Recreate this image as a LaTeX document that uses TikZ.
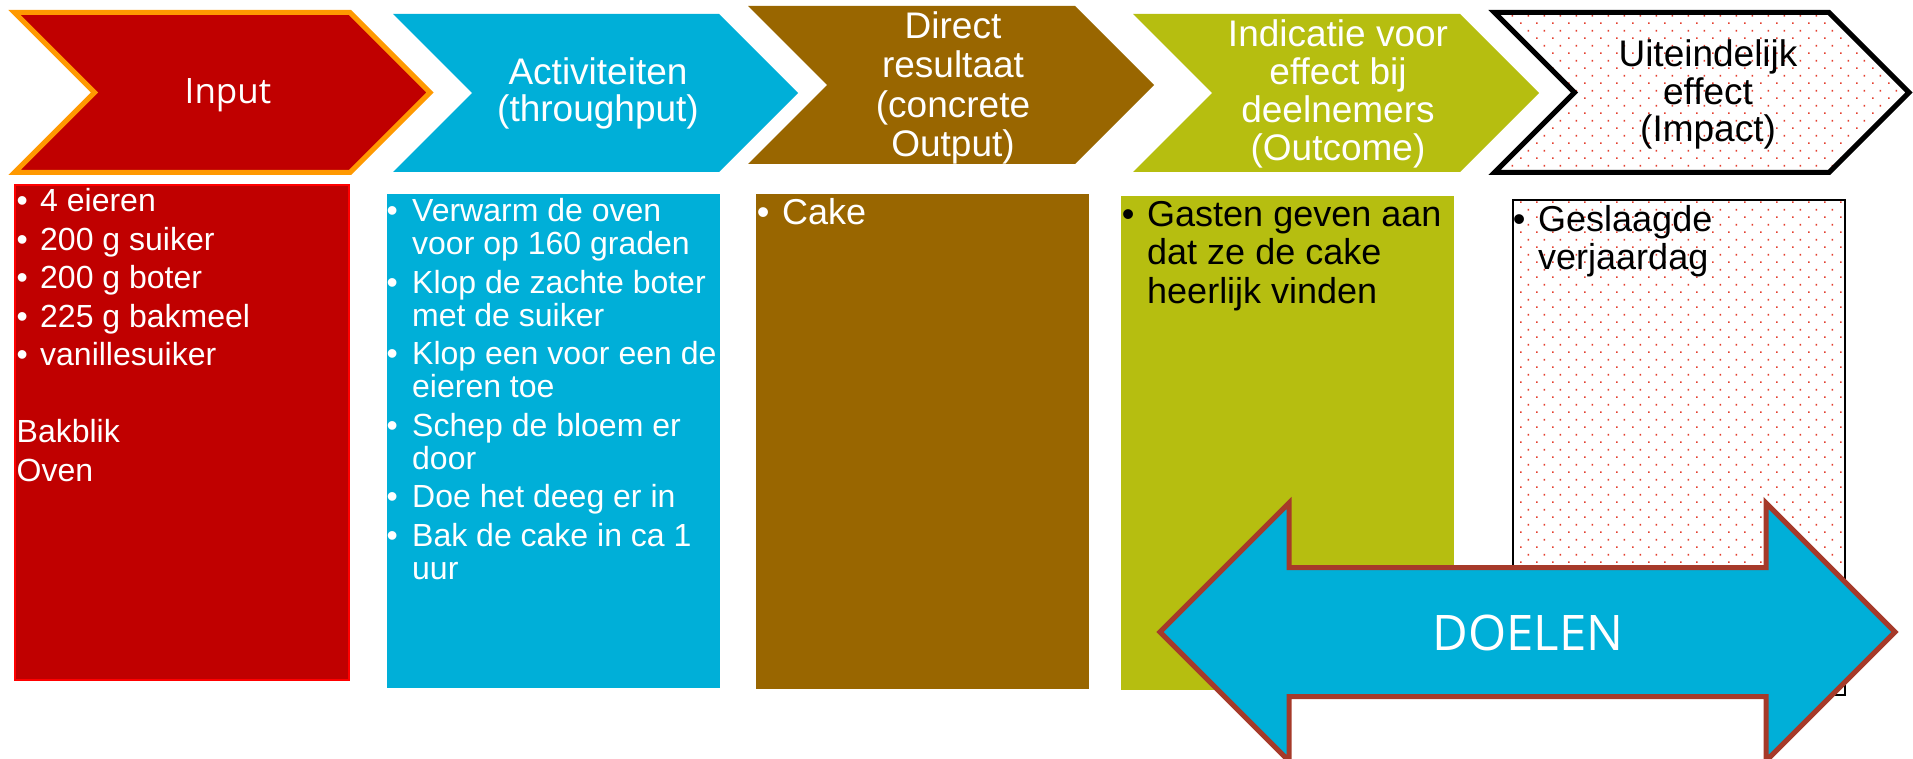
\documentclass[tikz,border=0pt]{standalone}
\usepackage{fontspec}
\setmainfont{Liberation Sans}
\newfontfamily\segoe{Open Sans}
\usetikzlibrary{patterns.meta}
\definecolor{cred}{RGB}{192,0,0}
\definecolor{corange}{RGB}{255,153,0}
\definecolor{cblue}{RGB}{0,175,216}
\definecolor{cbrown}{RGB}{153,102,0}
\definecolor{cgreen}{RGB}{182,190,16}
\definecolor{cdot}{RGB}{228,62,46}
\definecolor{carrow}{RGB}{166,58,42}
\definecolor{cbright}{RGB}{255,0,0}
\tikzdeclarepattern{
  name=reddots,
  type=uncolored,
  bounding box={(0pt,0pt) and (16pt,15.4pt)},
  tile size={(16pt,15.4pt)},
  code={
    \fill (0pt,0pt) rectangle (1.7pt,1.7pt);
    \fill (8pt,7.7pt) rectangle (9.7pt,9.4pt);
  }
}
\newcommand\lmitem[2]{\hangindent=#1\hangafter=1\noindent\makebox[#1][l]{•}#2\par}
\newcommand\lmline[1]{\noindent#1\par}
\tikzset{
  title/.style={anchor=base, inner sep=0pt, font=\fontsize{37}{38}\selectfont},
  listtext/.style={anchor=base west, inner sep=0pt},
  dotted fill/.style={preaction={fill=white}, pattern=reddots, pattern color=cdot}
}
\begin{document}
\begin{tikzpicture}[x=1pt,y=-1pt,line join=miter]
\useasboundingbox (0,0) rectangle (1913,759);

% ---- chevrons ----
\path[fill=cred, draw=corange, line width=5pt]
  (14.5,12.5) -- (350,12.5) -- (430,92.5) -- (350,172.5) -- (14.5,172.5) -- (94.5,92.5) -- cycle;
\fill[cblue] (393,14) -- (719,14) -- (798,93) -- (719,172) -- (393,172) -- (472,93) -- cycle;
\fill[cbrown] (748,6) -- (1075,6) -- (1154,85) -- (1075,164) -- (748,164) -- (827,85) -- cycle;
\fill[cgreen] (1133,14) -- (1460,14) -- (1539,93) -- (1460,172) -- (1133,172) -- (1212,93) -- cycle;
\path[dotted fill, draw=black, line width=5pt]
  (1494.5,12.5) -- (1829,12.5) -- (1909,92.5) -- (1829,172.5) -- (1494.5,172.5) -- (1574.5,92.5) -- cycle;

% ---- chevron titles ----
\node[anchor=base, inner sep=0pt, text=white, font=\segoe\fontsize{35}{36}\selectfont] (tinput) at (228,104) {Input};
\node[title, text=white] (tact) at (598,85) {\parbox[t]{320pt}{\centering\fontsize{37}{36.7}\selectfont Activiteiten\\(throughput)}};
\node[title, text=white] (tdir) at (953,38.3) {\parbox[t]{320pt}{\centering\fontsize{37}{39.4}\selectfont Direct\\resultaat\\(concrete\\Output)}};
\node[title, text=white] (tind) at (1338,46.7) {\parbox[t]{320pt}{\centering\fontsize{37}{37.8}\selectfont Indicatie voor\\effect bij\\deelnemers\\(Outcome)}};
\node[title, text=black] (tuit) at (1708,66.7) {\parbox[t]{320pt}{\centering\fontsize{37}{37.5}\selectfont Uiteindelijk\\effect\\(Impact)}};

% ---- boxes ----
\path[fill=cred, draw=cbright, line width=1.5pt] (15,185) rectangle (349,680);
\fill[cblue] (387,194) rectangle (720,688);
\fill[cbrown] (756,194) rectangle (1089,689);
\fill[cgreen] (1121,196) rectangle (1454,690);
\path[dotted fill, draw=black, line width=2pt] (1513,200) rectangle (1845,695);

% ---- box texts ----
\node[listtext, text=white] (linput) at (16.5,211.7) {\parbox[t]{330pt}{\fontsize{32}{33}\selectfont\parskip=5.5pt
  \lmitem{23.5pt}{4 eieren}
  \lmitem{23.5pt}{200 g suiker}
  \lmitem{23.5pt}{200 g boter}
  \lmitem{23.5pt}{225 g bakmeel}
  \lmitem{23.5pt}{vanillesuiker}
  \lmline{\mbox{}}
  \lmline{Bakblik}
  \lmline{Oven}}};
\node[listtext, text=white] (lact) at (386.5,221.7) {\parbox[t]{360pt}{\fontsize{32}{33}\selectfont\parskip=5.5pt
  \lmitem{25.5pt}{Verwarm de oven\newline voor op 160 graden}
  \lmitem{25.5pt}{Klop de zachte boter\newline met de suiker}
  \lmitem{25.5pt}{Klop een voor een de\newline eieren toe}
  \lmitem{25.5pt}{Schep de bloem er\newline door}
  \lmitem{25.5pt}{Doe het deeg er in}
  \lmitem{25.5pt}{Bak de cake in ca 1\newline uur}}};
\node[listtext, text=white] (ldir) at (756.7,225) {\parbox[t]{330pt}{\fontsize{36}{38.3}\selectfont
  \lmitem{25.3pt}{Cake}}};
\node[listtext, text=black] (lind) at (1121.7,226.7) {\parbox[t]{360pt}{\fontsize{36}{38.3}\selectfont
  \lmitem{25.3pt}{Gasten geven aan\newline dat ze de cake\newline heerlijk vinden}}};
\node[listtext, text=black] (luit) at (1512.7,231.5) {\parbox[t]{330pt}{\fontsize{36}{38.3}\selectfont
  \lmitem{25.3pt}{Geslaagde\newline verjaardag}}};

% ---- double arrow ----
\path[fill=cblue, draw=carrow, line width=5pt]
  (1160,632) -- (1289,503) -- (1289,567.5) -- (1766,567.5) -- (1766,503) -- (1895,632)
  -- (1766,761) -- (1766,696.5) -- (1289,696.5) -- (1289,761) -- cycle;
\node[anchor=base, inner sep=0pt, text=white, font=\segoe\fontsize{49}{50}\selectfont] (doelen) at (1528,650) {DOELEN};
\end{tikzpicture}
\end{document}
